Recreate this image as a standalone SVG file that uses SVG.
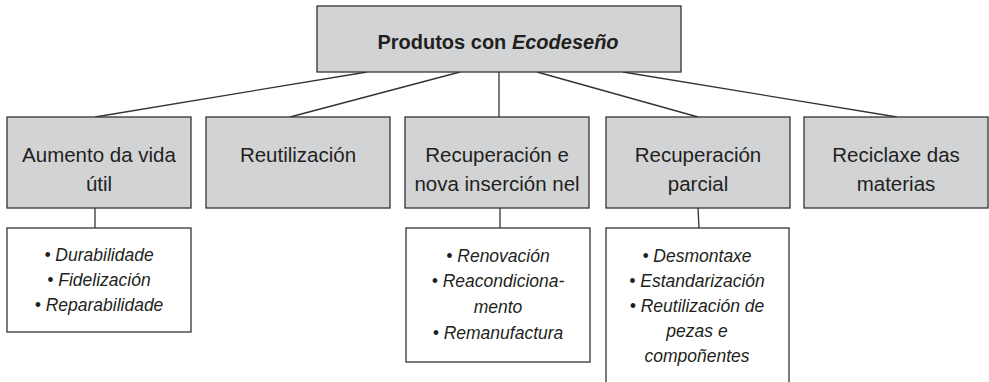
<svg xmlns="http://www.w3.org/2000/svg" width="989" height="382" viewBox="0 0 989 382">
<style>
.box{fill:#d2d3d5;stroke:#333;stroke-width:1.3}
.sub{fill:#fff;stroke:#333;stroke-width:1.3}
.con line{stroke:#333;stroke-width:1.3}
text{font-family:"Liberation Sans",Arial,sans-serif;fill:#231f20;text-anchor:middle}
.t{font-size:20.5px}
.s{font-size:17.5px;font-style:italic}
</style>
<rect width="989" height="382" fill="#fff"/>
<g class="con">
<line x1="367" y1="72" x2="95" y2="117"/>
<line x1="460" y1="72" x2="290" y2="117"/>
<line x1="499" y1="72" x2="499" y2="117"/>
<line x1="537" y1="72" x2="698" y2="117"/>
<line x1="623" y1="72" x2="897" y2="117"/>
<line x1="95" y1="208" x2="95" y2="228"/>
<line x1="500" y1="208" x2="500" y2="228"/>
<line x1="698" y1="208" x2="699" y2="228"/>
</g>
<g id="root">
<rect class="box" x="317" y="6" width="364" height="66"/>
<text x="498" y="49" style="font-size:20px;font-weight:bold">Produtos con <tspan font-style="italic">Ecodeseño</tspan></text>
</g>
<g id="aumento">
<rect class="box" x="7" y="117" width="184" height="91"/>
<text class="t" x="99" y="162">Aumento da vida</text>
<text class="t" x="99" y="191">útil</text>
</g>
<g id="reutilizacion">
<rect class="box" x="206" y="117" width="184" height="91"/>
<text class="t" x="298" y="162">Reutilización</text>
</g>
<g id="recuperacion">
<rect class="box" x="405" y="117" width="184" height="91"/>
<text class="t" x="497" y="162">Recuperación e</text>
<text class="t" x="497" y="191">nova inserción nel</text>
</g>
<g id="parcial">
<rect class="box" x="606" y="117" width="184" height="91"/>
<text class="t" x="698" y="162">Recuperación</text>
<text class="t" x="698" y="191">parcial</text>
</g>
<g id="reciclaxe">
<rect class="box" x="804" y="117" width="184" height="91"/>
<text class="t" x="896" y="162">Reciclaxe das</text>
<text class="t" x="896" y="191">materias</text>
</g>
<g id="aumento-sub">
<rect class="sub" x="7" y="228" width="184" height="104"/>
<text class="s" x="99" y="261">• Durabilidade</text>
<text class="s" x="99" y="286">• Fidelización</text>
<text class="s" x="99" y="311">• Reparabilidade</text>
</g>
<g id="recuperacion-sub">
<rect class="sub" x="406" y="228" width="184" height="134"/>
<text class="s" x="498" y="262">• Renovación</text>
<text class="s" x="498" y="287">• Reacondiciona-</text>
<text class="s" x="498" y="313">mento</text>
<text class="s" x="498" y="339">• Remanufactura</text>
</g>
<g id="parcial-sub">
<rect class="sub" x="606" y="228" width="183" height="170"/>
<text class="s" x="697" y="262">• Desmontaxe</text>
<text class="s" x="697" y="287">• Estandarización</text>
<text class="s" x="697" y="312">• Reutilización de</text>
<text class="s" x="697" y="337">pezas e</text>
<text class="s" x="697" y="362">compoñentes</text>
</g>
</svg>
